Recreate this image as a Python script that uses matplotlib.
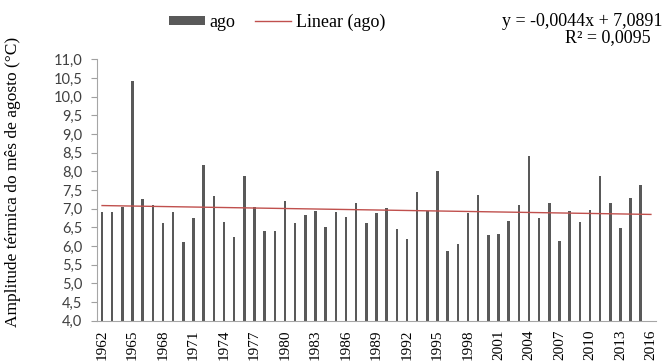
import matplotlib
matplotlib.use("Agg")
import matplotlib.pyplot as plt
import numpy as np

anos = list(range(1962, 2017))
ago = [6.91, 6.91, 7.05, 10.41, 7.25, 7.10, 6.62, 6.91, 6.11, 6.76,
       8.16, 7.35, 6.64, 6.24, 7.88, 7.05, 6.40, 6.40, 7.21, 6.61,
       6.83, 6.94, 6.51, 6.91, 6.78, 7.16, 6.61, 6.88, 7.01, 6.46,
       6.19, 7.45, 6.95, 8.00, 5.87, 6.06, 6.88, 7.37, 6.30, 6.33,
       6.67, 7.10, 8.40, 6.75, 7.16, 6.13, 6.94, 6.64, 6.96, 7.87,
       7.14, 6.48, 7.30, 7.63, np.nan]
# linha de tendencia (Excel): y = a*x + b, x = 1..n
a, b = -0.0044, 7.0891
r2 = 0.0095

x = np.arange(len(anos))
tend = a * (x + 1) + b

serif = "Liberation Serif"

fig = plt.figure(figsize=(6.66, 3.62), dpi=100)
ax = fig.add_axes([0.1456, 0.114, 0.8394, 0.722])

ax.bar(x, ago, width=0.25, color="#595959", label="ago")
ax.plot(x, tend, color="#c0504d", lw=1.0, label="Linear (ago)")

ax.set_xlim(-0.5, len(anos) - 0.5)
ax.set_ylim(4, 11)
yt = np.arange(4, 11.01, 0.5)
ax.set_yticks(yt)
ax.set_yticklabels([f"{v:.1f}".replace(".", ",") for v in yt],
                   fontsize=10.5, family="Lato", color="#404040")
ax.set_xticks(x[::3])
ax.set_xticklabels(anos[::3], rotation=90, fontsize=11, family=serif)
ax.tick_params(axis="x", length=0, pad=6)
ax.tick_params(axis="y", length=4.5, color="#a0a0a0", width=0.8, pad=6)

for s in ["top", "right"]:
    ax.spines[s].set_visible(False)
for s in ["left", "bottom"]:
    ax.spines[s].set_color("#a6a6a6")
    ax.spines[s].set_linewidth(0.8)

ax.set_ylabel("Amplitude térmica do mês de agosto (°C)", fontsize=12.5, family=serif)
ax.yaxis.set_label_coords(-0.135, 0.53)

h, l = ax.get_legend_handles_labels()
fig.legend(h[::-1], l[::-1], loc="center", bbox_to_anchor=(0.416, 0.939), ncol=2,
           frameon=False, prop={"family": serif, "size": 13},
           handlelength=2.0, handleheight=0.4, columnspacing=1.1, handletextpad=0.25)

fig.text(0.994, 0.94, "y = -0,0044x + 7,0891", ha="right", va="center",
         fontsize=13, family=serif)
fig.text(0.977, 0.897, "R² = 0,0095", ha="right", va="center",
         fontsize=13, family=serif)

fig.savefig("out.png", dpi=100)
